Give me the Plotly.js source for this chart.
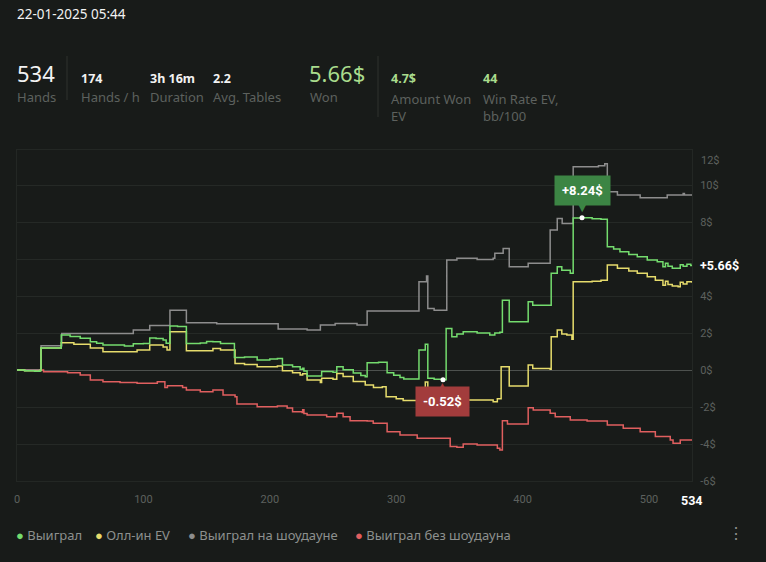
<!DOCTYPE html>
<html><head><meta charset="utf-8">
<script src="https://cdn.plot.ly/plotly-3.0.1.min.js"></script>
<style>html,body{margin:0;padding:0;background:#181b19;}#chart{width:766px;height:562px;}</style>
</head><body><div id="chart"></div>
<script>
// ---- data (hand number, cumulative $) ----
const wonHands = [0,6,14,18,19,35,42,50,58,63,68,85,92,100,105,110,115.6,118,121,127,134,145,150,155,161,172,180,190,200,206,210,218,224,226,227,229.5,240,241,250,253,258,266,272,275.5,277,286,292.8,298,303,306,318,323,325,330,337,339.5,344,348,353,364,374,378,382,384,389.4,404.4,408,422.6,427.4,431,437.7,440,447,455,462,467,472,477,484,490.7,498.6,506.5,511,513,515,518.4,523,524.7,527,530,533,534];
const wonValues = [0,-0.04,-0.06,-0.02,1.19,1.89,1.82,1.72,1.53,1.45,1.35,1.30,1.42,1.44,1.73,1.70,1.62,1.45,2.38,2.36,1.44,1.46,1.55,1.53,1.44,0.68,0.70,0.54,0.60,0.62,0.27,0.18,0.05,0.10,-0.05,-0.32,-0.32,-0.08,-0.12,0.18,0.02,-0.16,-0.30,-0.36,0.40,0.42,-0.15,-0.28,-0.40,-0.48,1.08,1.40,-0.45,-0.50,-0.52,2.25,1.80,1.95,2.07,2.00,1.89,2.00,2.05,3.78,2.61,3.69,3.51,5.23,5.59,5.40,5.23,8.22,8.24,8.18,8.15,6.67,6.55,6.40,6.25,6.13,5.95,5.86,5.59,5.78,5.62,5.50,5.50,5.70,5.62,5.72,5.66,5.66];

const evHands = [0,6,14,18,19,35,45,58,68,92,95,105,115.6,118.7,121,134,145,155,161,172.5,180,190,206,210,218,224,226,229.5,240,241,250,253,258,266,275.5,282,289,292,300,305.5,323,325,340,376.7,380,383,389.4,404.4,408,421.8,422.6,427.4,431,435,439,440,455,462,467,475,484,490.7,498.6,505,511,513,515,518.4,523,524.7,527,530,534];
const evValues = [0,-0.04,-0.06,-0.02,1.19,1.48,1.40,1.19,0.99,0.99,1.08,1.35,1.25,1.08,2.07,1.05,1.05,1.17,1.08,0.36,0.30,0.18,0.22,-0.04,-0.15,-0.27,-0.20,-0.54,-0.68,-0.45,-0.50,-0.18,-0.35,-0.62,-0.81,-0.94,-0.90,-1.44,-1.55,-1.65,-0.65,-1.60,-1.62,-1.71,-1.55,0.18,-0.86,0.27,0.09,0.04,1.80,2.16,1.95,1.90,1.66,4.77,4.80,4.85,5.68,5.50,5.35,5.23,5.05,4.86,4.59,4.80,4.62,4.55,4.50,4.75,4.65,4.77,4.72];

const sdHands = [0,19,35.4,92,105,121,134,158,206.6,229.5,240,251.7,269,277,318,324,325,330,340,348,364,376.7,378,384.6,389.4,404.4,421.8,427.4,431.3,440,460,465,467,475,493,514.4,527,528,534];
const sdValues = [0,1.31,1.98,2.16,2.41,3.24,2.56,2.50,2.22,2.16,2.43,2.52,2.43,3.19,4.77,5.08,3.33,3.24,5.95,6.04,5.98,6.04,6.31,6.58,5.59,5.77,7.57,8.20,7.93,10.99,11.05,11.15,9.64,9.46,9.32,9.46,9.55,9.46,9.46];

const nsdHands = [0,18,21,40,50,58,68,81.5,95,111,117,119,131,134,145,155,163,172.5,174,190,206,213.7,218,225.6,226,227,229.5,245,253,258,263.5,277,281.8,292.8,303,316.6,337,342.7,348,353,364,380,382,384,388,404.4,408.4,421.8,425.8,437.7,451,467,479.6,493,505,516.8,519,524.7,534];
const nsdValues = [0,0,-0.09,-0.15,-0.27,-0.54,-0.63,-0.68,-0.72,-0.63,-0.94,-0.85,-0.94,-1.08,-1.17,-1.08,-1.35,-1.45,-1.84,-1.98,-1.95,-2.05,-2.25,-2.30,-2.15,-2.35,-2.43,-2.52,-2.34,-2.52,-2.74,-2.76,-2.88,-3.33,-3.51,-3.69,-3.69,-4.14,-4.18,-4.00,-4.05,-4.23,-4.32,-2.74,-2.92,-2.04,-2.16,-2.34,-2.52,-2.70,-2.76,-2.97,-3.15,-3.33,-3.60,-3.78,-3.96,-3.78,-3.78];

const seriesNames = ['Выиграл','Олл-ин EV','Выиграл на шоудауне','Выиграл без шоудауна'];
const seriesColors = ['#74dc6e','#e6dc6c','#8d8d8d','#e05f5f'];
const xTicks = [0,100,200,300,400,500];
const yTicks = [-6,-4,-2,0,2,4,6,8,10];
const yTickText = ['-6$','-4$','-2$','0$','2$','4$','','8$','10$'];
const yTopLabel = '12$';

const statValues = ['534','174','3h 16m','2.2','5.66$','4.7$','44'];
const statLabels = ['Hands','Hands / h','Duration','Avg. Tables','Won','Amount Won<br>EV','Win Rate EV,<br>bb/100'];
const dateText = '22-01-2025 05:44';

// ---- geometry helpers ----
const W = 766, H = 562;
const M = {l:17, r:74, t:150, b:81};
const px = v => (v - M.l) / (W - M.l - M.r);
const py = v => (H - M.b - v) / (H - M.t - M.b);

const FONT = 'Noto Sans, Open Sans, sans-serif';
const CFONT = 'Roboto, Noto Sans, sans-serif';
const WHITE = '#f2f2f2', GREY = '#5d615e', LGREEN = '#a9dc8d', LEGC = '#8d908e';

function line(hands, vals, i) {
  return {x: hands, y: vals, type: 'scatter', mode: 'lines', name: seriesNames[i],
    line: {color: seriesColors[i], width: 1.5, shape: 'hv'}, hoverinfo: 'skip', showlegend: false};
}

let maxI = 0, minI = 0;
wonValues.forEach((v, i) => { if (v > wonValues[maxI]) maxI = i; if (v < wonValues[minI]) minI = i; });
const lastWon = wonValues[wonValues.length - 1];
const lastHand = wonHands[wonHands.length - 1];

const traces = [
  line(nsdHands, nsdValues, 3),
  line(sdHands, sdValues, 2),
  line(evHands, evValues, 1),
  line(wonHands, wonValues, 0),
  {x: [wonHands[maxI], wonHands[minI]], y: [wonValues[maxI], wonValues[minI]], type: 'scatter', mode: 'markers',
   marker: {color: '#ffffff', size: 5}, hoverinfo: 'skip', showlegend: false}
];

const ann = [];
function txt(text, x, y, size, color, opts) {
  ann.push(Object.assign({text: text, xref: 'paper', yref: 'paper', x: px(x), y: py(y), xanchor: 'left', yanchor: 'middle',
    showarrow: false, font: {family: FONT, size: size, color: color}, align: 'left'}, opts || {}));
}
// header
txt(dateText, 15, 14, 13.5, WHITE);
txt(statValues[0], 15, 73, 22, WHITE);
txt(statLabels[0], 15, 97, 13, GREY);
const smallX = [79, 148, 211];
for (let i = 0; i < 3; i++) {
  txt('<b>' + statValues[i+1] + '</b>', smallX[i], 78, 12.5, WHITE);
  txt(statLabels[i+1], smallX[i], 97, 13, GREY);
}
txt(statValues[4], 307, 73, 22, LGREEN);
txt(statLabels[4], 308, 97, 13, GREY);
txt('<b>' + statValues[5] + '</b>', 389, 78, 12.5, LGREEN);
txt(statLabels[5], 389, 97, 13, GREY, {yanchor: 'top', y: py(88)});
txt('<b>' + statValues[6] + '</b>', 481, 78, 12.5, LGREEN);
txt(statLabels[6], 481, 97, 13, GREY, {yanchor: 'top', y: py(88)});

// y label at the top edge
txt(yTopLabel, 699, 161, 11, GREY, {font: {family: CFONT, size: 11, color: GREY}});
// last value label
ann.push({text: '<b>+' + lastWon.toFixed(2) + '$</b>', xref: 'paper', yref: 'y', x: 1, y: lastWon, xanchor: 'left', yanchor: 'middle',
  xshift: 6, showarrow: false, font: {family: CFONT, size: 12.5, color: '#ffffff'}});
// last hand label
ann.push({text: '<b>' + lastHand + '</b>', xref: 'x', yref: 'paper', x: lastHand, y: 0, xanchor: 'center', yanchor: 'middle',
  yshift: -19, showarrow: false, font: {family: CFONT, size: 12.5, color: '#ffffff'}});

// callouts
const GBOX = '#3c8544', RBOX = '#a23c3c';
ann.push({text: '<b>+' + wonValues[maxI].toFixed(2) + '$</b>', xref: 'x', yref: 'y', x: wonHands[maxI], y: wonValues[maxI],
  yshift: 27, showarrow: false, bgcolor: GBOX, borderpad: 7, font: {family: CFONT, size: 13, color: '#ffffff'}});
ann.push({text: '▼', xref: 'x', yref: 'y', x: wonHands[maxI], y: wonValues[maxI], yshift: 10, showarrow: false,
  font: {family: 'DejaVu Sans', size: 11, color: GBOX}});
ann.push({text: '<b>' + wonValues[minI].toFixed(2) + '$</b>', xref: 'x', yref: 'y', x: wonHands[minI], y: wonValues[minI],
  yshift: -22, showarrow: false, bgcolor: RBOX, borderpad: 7, font: {family: CFONT, size: 13, color: '#ffffff'}});
ann.push({text: '▲', xref: 'x', yref: 'y', x: wonHands[minI], y: wonValues[minI], yshift: -7, showarrow: false,
  font: {family: 'DejaVu Sans', size: 11, color: RBOX}});

// legend
const legX = [14, 93, 186, 353];
seriesNames.forEach((n, i) => {
  txt('<span style="color:' + seriesColors[i] + '">●</span> ' + n, legX[i], 535, 13, LEGC);
});
txt('⋮', 726, 533, 16, LEGC);

const shapes = [
  {type: 'line', xref: 'paper', yref: 'paper', x0: px(67), x1: px(67), y0: py(56), y1: py(100), line: {color: '#2e322f', width: 1}},
  {type: 'line', xref: 'paper', yref: 'paper', x0: px(378), x1: px(378), y0: py(56), y1: py(117), line: {color: '#2e322f', width: 1}}
];

const layout = {
  width: W, height: H, margin: M,
  paper_bgcolor: '#181b19', plot_bgcolor: '#181b19',
  showlegend: false,
  font: {family: CFONT, color: GREY},
  xaxis: {range: [0, 534], tickvals: xTicks, showgrid: false, zeroline: false, showline: true, mirror: true,
    linecolor: '#232724', linewidth: 1, ticks: '', tickfont: {family: CFONT, size: 11, color: GREY}, ticklabelstandoff: 8},
  yaxis: {range: [-6, 11.9], side: 'right', tickvals: yTicks, ticktext: yTickText, showgrid: true, gridcolor: '#252926',
    zeroline: true, zerolinecolor: '#4d514e', zerolinewidth: 1, showline: true, mirror: true, linecolor: '#232724',
    ticks: '', tickfont: {family: CFONT, size: 11, color: GREY}, ticklabelstandoff: 5},
  annotations: ann, shapes: shapes
};
Plotly.newPlot('chart', traces, layout, {displayModeBar: false, staticPlot: true});
</script></body></html>
